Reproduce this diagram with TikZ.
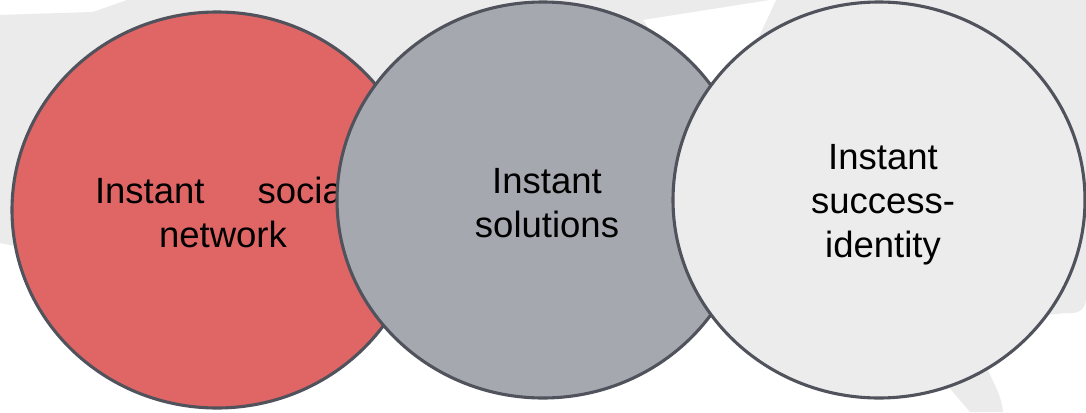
\documentclass[tikz,border=0pt]{standalone}
\usepackage{fontspec}
\setmainfont{Liberation Sans}
\usetikzlibrary{shapes.geometric}
\definecolor{bgblob}{HTML}{EBEBEB}
\definecolor{edgecol}{HTML}{50535C}
\definecolor{redfill}{HTML}{E06666}
\definecolor{grayfill}{HTML}{A5A8AF}
\definecolor{lightfill}{HTML}{ECECEC}
\tikzset{
  oval/.style={ellipse, draw=edgecol, line width=3.1pt, inner sep=0pt,
    minimum width=412pt, minimum height=396pt},
  lbl/.style={align=center, inner sep=0pt, text=black,
    font=\fontsize{36.5}{44}\selectfont}
}
\begin{document}
\begin{tikzpicture}[x=1pt,y=-1pt]
\useasboundingbox (0,0) rectangle (1086,412);
\fill[white] (0,0) rectangle (1086,412);
% background brush blob
\fill[bgblob] (127,0) -- (1086,0) -- (1086,298)
  .. controls (1086,312) and (1075,314) .. (1066,313)
  -- (900,330) -- (712,300) -- (380,290) -- (15,246) -- (0,243)
  -- (0,15) -- (93,12) -- cycle;
\fill[white] (643,20) -- (770,0) -- (776,0) -- (748,60) -- (700,100) -- cycle;
\fill[bgblob] (935,371) -- (985,365)
  .. controls (995,385) and (1002,398) .. (1003,412) -- (970,412) -- cycle;
% ellipses and labels
\node[oval, fill=redfill, minimum width=410pt] (e1) at (217,210) {};
\node[lbl] (t1) at (223,216.2) {\hbox to 256pt{\strut Instant\hfill social}\\\strut network};
\node[oval, fill=grayfill] (e2) at (543,200) {};
\node[lbl] (t2) at (547,206.2) {\strut Instant\\\strut solutions};
\node[oval, fill=lightfill] (e3) at (879,200) {};
\node[lbl] (t3) at (883,204.7) {\strut Instant\\\strut success-\\\strut identity};
\end{tikzpicture}
\end{document}
